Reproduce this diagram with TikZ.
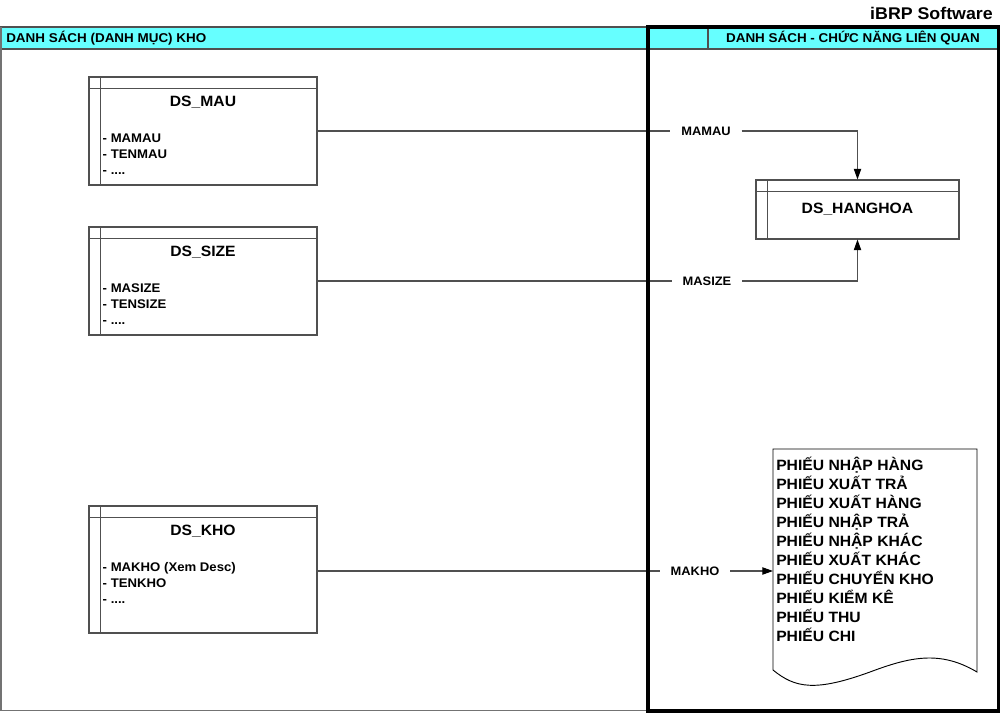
\documentclass[tikz,border=0pt]{standalone}
\usepackage{fontspec}
\setmainfont[FakeStretch=1.05]{Liberation Sans}
\usetikzlibrary{calc,arrows.meta}
\definecolor{hdrcyan}{HTML}{66FFFF}
\definecolor{lncol}{HTML}{505050}
\newcommand\entlines[1]{%
  \draw[lncol, line width=1.2pt] ($(#1.north west)+(0,12)$) -- ($(#1.north east)+(0,12)$);
  \draw[lncol, line width=0.8pt] ($(#1.north west)+(12,0)$) -- ($(#1.south west)+(12,0)$);}
\newcommand\entfields[4]{%
  \node[fld] (#1F1) at ($(#1.north west)+(14,66)$) {#2};
  \node[fld] (#1F2) at ($(#1.north west)+(14,82)$) {#3};
  \node[fld] (#1F3) at ($(#1.north west)+(14,98)$) {#4};}
\begin{document}
\begin{tikzpicture}[x=0.75pt,y=-0.75pt,
  ent/.style={draw=lncol, line width=0.8pt, inner sep=0pt, minimum width=171pt},
  ttl/.style={font=\bfseries\fontsize{11.2}{13}\selectfont, inner sep=0pt, anchor=base},
  fld/.style={font=\bfseries\fontsize{9.4}{11}\selectfont, inner sep=0pt, anchor=base west},
  lbl/.style={font=\bfseries\fontsize{9.2}{11}\selectfont, inner xsep=8pt, inner ysep=1pt},
  conn/.style={draw=lncol, line width=0.8pt},
  arr/.style={conn, -{Triangle[length=8pt,width=5.5pt,color=black]}},
  doctxt/.style={font=\bfseries\fontsize{11.2}{13}\selectfont, inner sep=0pt, anchor=base west},
  hdrtxt/.style={font=\bfseries\fontsize{9.6}{11}\selectfont, inner sep=0pt}
]
\useasboundingbox (0,0) rectangle (1001,713);
% header band
\fill[hdrcyan] (1,27) rectangle (999,49);
\draw[lncol, line width=1pt] (1,27) rectangle (647,49);
\draw[lncol, line width=1pt] (708,27) -- (708,49);
\draw[lncol, line width=1pt] (647,49) -- (999,49);
\draw[lncol!80, line width=1.2pt] (1,27) -- (1,710.5) -- (647,710.5);
\node[hdrtxt, anchor=west] (hl) at (6,38.5) {DANH SÁCH (DANH MỤC) KHO};
\node[hdrtxt] (hr) at (853,38.5) {DANH SÁCH - CHỨC NĂNG LIÊN QUAN};
\node[font=\bfseries\fontsize{12.7}{14}\selectfont, anchor=base east, inner sep=0pt] (brand) at (993,20) {iBRP Software};
% entities
\node[ent, minimum height=81pt] (mau) at (203,131) {};
\entlines{mau}
\node[ttl] (mauT) at ($(mau.north)+(0,30)$) {DS\_MAU};
\entfields{mau}{- MAMAU}{- TENMAU}{- ....}
\node[ent, minimum height=81pt] (size) at (203,281) {};
\entlines{size}
\node[ttl] (sizeT) at ($(size.north)+(0,30)$) {DS\_SIZE};
\entfields{size}{- MASIZE}{- TENSIZE}{- ....}
\node[ent, minimum height=95.25pt] (kho) at (203,569.5) {};
\entlines{kho}
\node[ttl] (khoT) at ($(kho.north)+(0,30)$) {DS\_KHO};
\entfields{kho}{- MAKHO (Xem Desc)}{- TENKHO}{- ....}
\node[ent, minimum width=152.25pt, minimum height=44.25pt] (hh) at (857.5,209.5) {};
\entlines{hh}
\node[ttl] (hhT) at ($(hh.north)+(0,34)$) {DS\_HANGHOA};
% document
\draw[black, line width=0.7pt] (773,449) -- (977,449) -- (977,672)
  .. controls (940,650) and (910,657) .. (870,672)
  .. controls (815,692) and (795,688) .. (773,670) -- cycle;
\foreach \t [count=\i] in {PHIẾU NHẬP HÀNG, PHIẾU XUẤT TRẢ, PHIẾU XUẤT HÀNG, PHIẾU NHẬP TRẢ, PHIẾU NHẬP KHÁC, PHIẾU XUẤT KHÁC, PHIẾU CHUYỂN KHO, PHIẾU KIỂM KÊ, PHIẾU THU, PHIẾU CHI}
  \node[doctxt] (doc\i) at (776,{470+19.1*(\i-1)}) {\t};
\coordinate (docin) at (773,571);
% connectors
\node[lbl] (lmau) at (706,131) {MAMAU};
\node[lbl] (lsize) at (707,281) {MASIZE};
\node[lbl] (lkho) at (695,571) {MAKHO};
\draw[conn] (mau.east) -- (lmau.west);
\draw[arr] (lmau.east) -| (hh.north);
\draw[conn] (size.east) -- (lsize.west);
\draw[arr] (lsize.east) -| (hh.south);
\draw[conn] (kho.east |- lkho.west) -- (lkho.west);
\draw[arr] (lkho.east) -- (docin);
% right frame
\draw[black, line width=2.4pt] (648,27) rectangle (998.5,711);
\end{tikzpicture}
\end{document}
